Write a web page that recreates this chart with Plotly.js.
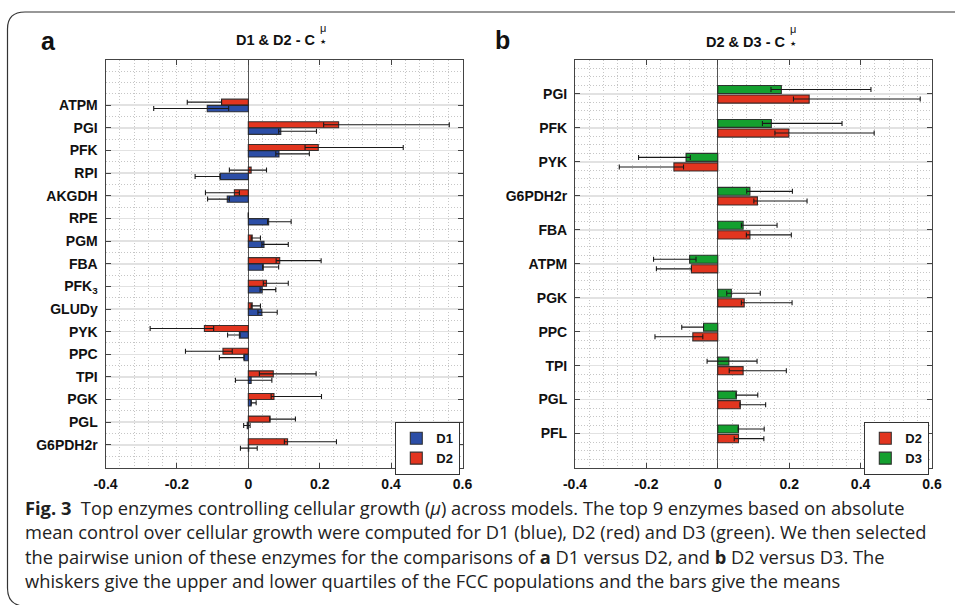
<!DOCTYPE html>
<html>
<head>
<meta charset="utf-8">
<script src="https://cdn.plot.ly/plotly-3.0.1.min.js"></script>
<style>html,body{margin:0;padding:0;background:#fff;}#chart{width:955px;height:605px;}</style>
</head>
<body>
<div id="chart"></div>
<script>
// ---------------- DATA ----------------
// Panel a: D1 vs D2 (top to bottom)
const enzymesA = ['ATPM','PGI','PFK','RPI','AKGDH','RPE','PGM','FBA','PFK<sub>3</sub>','GLUDy','PYK','PPC','TPI','PGK','PGL','G6PDH2r'];
const a_D1_mean = [-0.115, 0.091, 0.086, -0.079, -0.059, 0.057, 0.044, 0.042, 0.039, 0.038, -0.025, -0.012, 0.008, 0.008, -0.003, 0.001];
const a_D1_q1   = [-0.265, 0.085, 0.077, -0.149, -0.114, 0.054, 0.038, 0.040, 0.033, 0.027, -0.058, -0.081, -0.036, 0.008, -0.013, -0.022];
const a_D1_q3   = [-0.055, 0.191, 0.171, -0.079, -0.053, 0.120, 0.112, 0.085, 0.077, 0.081, -0.023, -0.012, 0.066, 0.022, 0.005, 0.025];
const a_D2_mean = [-0.075, 0.253, 0.196, 0.008, -0.039, 0.000, 0.011, 0.088, 0.051, 0.011, -0.123, -0.071, 0.070, 0.072, 0.061, 0.110];
const a_D2_q1   = [-0.171, 0.211, 0.159, -0.053, -0.120, 0.000, 0.008, 0.078, 0.042, 0.008, -0.275, -0.176, 0.031, 0.064, 0.060, 0.101];
const a_D2_q3   = [-0.075, 0.563, 0.434, 0.051, -0.025, 0.000, 0.034, 0.204, 0.112, 0.034, -0.097, -0.045, 0.190, 0.205, 0.132, 0.247];

// Panel b: D2 vs D3 (top to bottom)
const enzymesB = ['PGI','PFK','PYK','G6PDH2r','FBA','ATPM','PGK','PPC','TPI','PGL','PFL'];
const b_D3_mean = [0.178, 0.150, -0.089, 0.090, 0.071, -0.079, 0.038, -0.040, 0.031, 0.052, 0.058];
const b_D3_q1   = [0.149, 0.125, -0.222, 0.081, 0.066, -0.180, 0.025, -0.101, -0.030, 0.051, 0.057];
const b_D3_q3   = [0.429, 0.348, -0.077, 0.209, 0.166, -0.061, 0.119, -0.040, 0.110, 0.112, 0.130];
const b_D2_mean = [0.256, 0.199, -0.123, 0.111, 0.090, -0.074, 0.074, -0.070, 0.071, 0.063, 0.058];
const b_D2_q1   = [0.212, 0.160, -0.276, 0.101, 0.080, -0.172, 0.066, -0.176, 0.032, 0.062, 0.046];
const b_D2_q3   = [0.567, 0.438, -0.096, 0.250, 0.206, -0.074, 0.208, -0.042, 0.192, 0.134, 0.129];

const xTickVals = [-0.4, -0.2, 0, 0.2, 0.4, 0.6];
const xTickText = ['-0.4', '-0.2', '0', '0.2', '0.4', '0.6'];

const titleA = 'D1 & D2 - C';
const titleB = 'D2 & D3 - C';
const captionLines = [
  '<b>Fig. 3</b>  Top enzymes controlling cellular growth (<i>μ</i>) across models. The top 9 enzymes based on absolute',
  'mean control over cellular growth were computed for D1 (blue), D2 (red) and D3 (green). We then selected',
  'the pairwise union of these enzymes for the comparisons of <b>a</b> D1 versus D2, and <b>b</b> D2 versus D3. The',
  'whiskers give the upper and lower quartiles of the FCC populations and the bars give the means'
];

// ---------------- STYLE / HELPERS ----------------
const W = 955, H = 605;
const px = x => x / W;
const py = y => 1 - y / H;
const RED = '#E2351F', BLUE = '#2C4EA6', GREEN = '#14A02F';
const EDGE = 'rgba(35,35,35,0.9)';
const tickFont = {family: 'Liberation Sans, Arial, sans-serif', size: 14, color: '#111', weight: 'bold'};
const idx = arr => arr.map((_, i) => i);
const plus = (m, q3) => m.map((v, i) => Math.max(q3[i] - v, 0));
const minus = (m, q1) => m.map((v, i) => Math.max(v - q1[i], 0));

function barTrace(name, mean, q1, q3, cats, color, offset, width, xa, ya, leg) {
  return {
    type: 'bar', orientation: 'h', name: name,
    x: mean, y: idx(cats),
    offset: offset, width: width,
    xaxis: xa, yaxis: ya, legend: leg,
    marker: {color: color, line: {color: EDGE, width: 1.1}},
    error_x: {type: 'data', symmetric: false, array: plus(mean, q3), arrayminus: minus(mean, q1),
              color: '#1a1a1a', thickness: 1.1, width: 2.5},
    hoverinfo: 'skip'
  };
}

const data = [
  barTrace('D2', a_D2_mean, a_D2_q1, a_D2_q3, enzymesA, RED, -0.27, 0.265, 'x', 'y', 'legend'),
  barTrace('D1', a_D1_mean, a_D1_q1, a_D1_q3, enzymesA, BLUE, 0.005, 0.28, 'x', 'y', 'legend'),
  barTrace('D3', b_D3_mean, b_D3_q1, b_D3_q3, enzymesB, GREEN, -0.25, 0.235, 'x2', 'y2', 'legend2'),
  barTrace('D2', b_D2_mean, b_D2_q1, b_D2_q3, enzymesB, RED, 0.03, 0.24, 'x2', 'y2', 'legend2')
];

const dotted = '1px,2px';
function xAxis(dom, anchor) {
  return {
    domain: dom, anchor: anchor, range: [-0.4, 0.6], autorange: false,
    tickmode: 'array', tickvals: xTickVals, ticktext: xTickText, tickfont: tickFont,
    ticks: 'inside', ticklen: 5, tickcolor: '#444', tickwidth: 1,
    showline: true, linecolor: '#444', linewidth: 1, mirror: 'ticks',
    showgrid: true, gridcolor: '#c6c6c6', griddash: dotted, gridwidth: 1,
    minor: {dtick: 0.04, showgrid: true, gridcolor: '#c6c6c6', griddash: dotted, gridwidth: 1, ticks: ''},
    zeroline: true, zerolinecolor: '#555', zerolinewidth: 1,
    ticklabelstandoff: 4, fixedrange: true
  };
}
function yAxis(dom, anchor, cats, rng, minorStep) {
  return {
    domain: dom, anchor: anchor, range: rng, autorange: false,
    tickmode: 'array', tickvals: idx(cats), ticktext: cats, tickfont: tickFont,
    ticks: 'inside', ticklen: 5, tickcolor: '#444', tickwidth: 1,
    showline: true, linecolor: '#444', linewidth: 1, mirror: 'ticks',
    showgrid: true, gridcolor: '#e2e2e2', gridwidth: 1.6,
    minor: {dtick: minorStep, tick0: 0, showgrid: true, gridcolor: '#c6c6c6', griddash: dotted, gridwidth: 1, ticks: ''},
    zeroline: false, ticklabelstandoff: 4, fixedrange: true
  };
}

const titleFont = {family: 'Liberation Sans, Arial, sans-serif', size: 14.5, color: '#111', weight: 'bold'};
const capFont = {family: 'Open Sans, Noto Sans, sans-serif', size: 18.3, color: '#222'};
const muFont = {family: 'Liberation Sans, Arial, sans-serif', size: 11, color: '#111'};
const starFont = {family: 'DejaVu Sans, sans-serif', size: 7, color: '#111'};

function ann(text, x, y, font, xanchor, yanchor) {
  return {text: text, x: px(x), y: py(y), xref: 'paper', yref: 'paper', showarrow: false,
          xanchor: xanchor || 'left', yanchor: yanchor || 'middle', font: font};
}

const annotations = [
  ann(titleA, 317, 40, titleFont, 'right'),
  ann('μ', 317.5, 35.5, muFont, 'left', 'bottom'),
  ann('★', 318, 36, starFont, 'left', 'top'),
  ann(titleB, 787, 41.5, titleFont, 'right'),
  ann('μ', 787.5, 37, muFont, 'left', 'bottom'),
  ann('★', 788, 37.5, starFont, 'left', 'top'),
  ann('a', 39, 41, {family: 'Liberation Sans, Arial, sans-serif', size: 25, color: '#111', weight: 'bold'}, 'left'),
  ann('b', 493, 40, {family: 'Liberation Sans, Arial, sans-serif', size: 25, color: '#111', weight: 'bold'}, 'left')
];
const capY = [507, 531.5, 556, 580.5];
captionLines.forEach((t, i) => annotations.push(ann(t, 23, capY[i], capFont, 'left')));

const frame = `M ${px(955)},${py(12)} L ${px(25)},${py(12)} Q ${px(7.5)},${py(12)} ${px(7.5)},${py(29)} L ${px(7.5)},${py(588)} Q ${px(7.5)},${py(604)} ${px(22)},${py(606)}`;

const legendBase = {
  xref: 'paper', yref: 'paper', xanchor: 'right', yanchor: 'top',
  bgcolor: 'white', bordercolor: '#333', borderwidth: 1.3,
  font: {family: 'Liberation Sans, Arial, sans-serif', size: 13, color: '#111', weight: 'bold'},
  traceorder: 'reversed', itemwidth: 30, tracegroupgap: 0
};

const layout = {
  width: W, height: H, margin: {l: 0, r: 0, t: 0, b: 0},
  paper_bgcolor: 'white', plot_bgcolor: 'white',
  barmode: 'overlay', hovermode: false, showlegend: true,
  xaxis: xAxis([px(105.5), px(462.5)], 'y'),
  yaxis: yAxis([py(467.5), py(60)], 'x', enzymesA, [16, -2], 0.5),
  xaxis2: xAxis([px(575), px(932)], 'y2'),
  yaxis2: yAxis([py(467.5), py(60)], 'x2', enzymesB, [11, -1], 0.25),
  legend: Object.assign({}, legendBase, {x: px(460), y: py(422)}),
  legend2: Object.assign({}, legendBase, {x: px(929), y: py(422)}),
  annotations: annotations,
  shapes: [{type: 'path', path: frame, xref: 'paper', yref: 'paper', line: {color: '#333', width: 1.2}}]
};

Plotly.newPlot('chart', data, layout, {staticPlot: true, displayModeBar: false});
</script>
</body>
</html>
